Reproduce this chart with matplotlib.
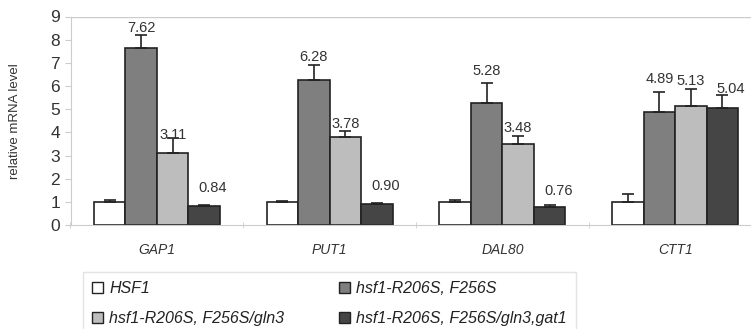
import numpy as np
import matplotlib.pyplot as plt
from matplotlib.patches import Patch

plt.rcParams['font.family'] = ['Liberation Sans', 'DejaVu Sans']

genes = ["GAP1", "PUT1", "DAL80", "CTT1"]
strains = ["HSF1", "hsf1-R206S, F256S", "hsf1-R206S, F256S/gln3",
           "hsf1-R206S, F256S/gln3,gat1"]

# rows = strains, cols = genes
values = [
    [1.00, 1.00, 1.00, 1.00],
    [7.62, 6.28, 5.28, 4.89],
    [3.11, 3.78, 3.48, 5.13],
    [0.84, 0.90, 0.76, 5.04],
]
errors = [
    [0.08, 0.03, 0.10, 0.32],
    [0.60, 0.62, 0.84, 0.83],
    [0.64, 0.28, 0.37, 0.72],
    [0.04, 0.04, 0.12, 0.56],
]
labels = [
    [None, None, None, None],
    ["7.62", "6.28", "5.28", "4.89"],
    ["3.11", "3.78", "3.48", "5.13"],
    ["0.84", "0.90", "0.76", "5.04"],
]

# label heights above the bar top (data units)
label_off = [
    [0, 0, 0, 0],
    [0.88, 0.97, 1.36, 1.40],
    [0.77, 0.60, 0.69, 1.07],
    [0.77, 0.79, 0.71, 0.85],
]
label_dx = [0, 0, 0, 0.28]

colors = ["#ffffff", "#7f7f7f", "#bdbdbd", "#454545"]

fig = plt.figure(figsize=(7.51, 3.29), dpi=100)
ax = fig.add_axes([70.5 / 751, 104 / 329, 691 / 751, 208.5 / 329])

x = np.arange(len(genes))
w = 0.182
for i in range(len(strains)):
    pos = x + (i - 1.5) * w
    ax.bar(pos, values[i], width=w, color=colors[i], edgecolor="#222222",
           linewidth=1.2, zorder=2)
    ax.errorbar(pos, values[i], yerr=[np.zeros(len(genes)), errors[i]],
                fmt="none", ecolor="#222222", elinewidth=1.2, capsize=4,
                capthick=1.2, zorder=3)
    for j in range(len(genes)):
        if labels[i][j] is None:
            continue
        ax.text(pos[j] + label_dx[i] * w, values[i][j] + label_off[i][j],
                labels[i][j], ha="center", va="center", fontsize=10.5,
                color="#333333", zorder=4)

ax.set_xlim(-0.5, 3.5)
ax.set_ylim(0, 9)
ax.set_yticks(range(10))
ax.tick_params(axis="y", labelsize=12.5, length=4, color="#cccccc",
               labelcolor="#333333")
ax.set_xticks(x)
ax.set_xticklabels(genes, fontstyle="italic", fontsize=10, color="#333333")
ax.tick_params(axis="x", length=0, pad=13)
ax.set_xticks(np.arange(-0.5, 3.6, 1), minor=True)
ax.tick_params(axis="x", which="minor", length=5, direction="inout",
               color="#cccccc")
ax.yaxis.grid(False)
ax.axhline(9, color="#cccccc", linewidth=1, zorder=1)
for s in ["top", "right"]:
    ax.spines[s].set_visible(False)
ax.spines["left"].set_color("#cccccc")
ax.spines["bottom"].set_color("#cccccc")
ax.set_ylabel("relative mRNA level", fontsize=9.5, color="#333333", labelpad=21)

handles = [Patch(facecolor=c, edgecolor="#222222", linewidth=1) for c in colors]
order = [0, 2, 1, 3]
leg = fig.legend([handles[k] for k in order], [strains[k] for k in order],
                 ncol=2, loc="upper left", bbox_to_anchor=(83 / 751, 1 - 272 / 329),
                 borderaxespad=0, frameon=True, fancybox=False,
                 edgecolor="#dddddd", prop={"style": "italic", "size": 11.5},
                 handlelength=0.7, handleheight=0.7, handletextpad=0.4,
                 columnspacing=3.4, labelspacing=0.95, borderpad=0.55)
for t in leg.get_texts():
    t.set_color("#222222")

plt.savefig("out.png", dpi=100)
